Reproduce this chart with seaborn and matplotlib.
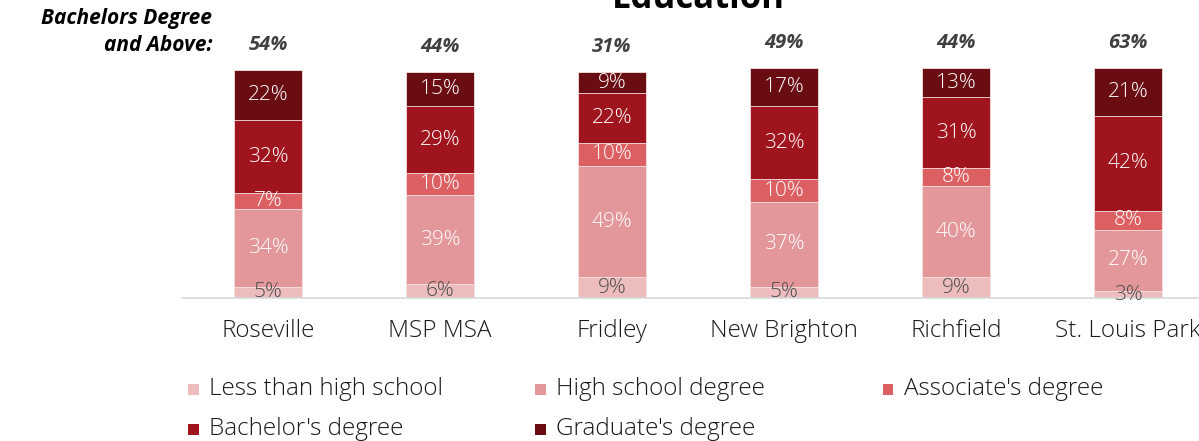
import matplotlib
matplotlib.use("Agg")
import matplotlib.pyplot as plt
from matplotlib.patches import Rectangle
import numpy as np
import seaborn as sns

# Educational attainment by city (share of adults, %)
cities = ["Roseville", "MSP MSA", "Fridley", "New Brighton", "Richfield", "St. Louis Park"]
less_than_hs = [5, 6, 9, 5, 9, 3]
high_school = [34, 39, 49, 37, 40, 27]
associates = [7, 10, 10, 10, 8, 8]
bachelors = [32, 29, 22, 32, 31, 42]
graduate = [22, 15, 9, 17, 13, 21]

levels = ["Less than high school", "High school degree", "Associate's degree",
          "Bachelor's degree", "Graduate's degree"]
colors = ["#EDBDBE", "#E4979A", "#DC5F62", "#9F141D", "#6A0D13"]

sns.set_theme(style="white")
plt.rcParams["font.family"] = ["Open Sans", "DejaVu Sans"]
LIGHT = "light"

W, H = 1199, 441
fig = plt.figure(figsize=(W / 100, H / 100), dpi=100)
fig.patch.set_facecolor("white")

# axes spans one category slot either side of the bars; right edge runs past the canvas
ax = fig.add_axes([182 / W, 1 - 298 / H, 1032 / W, 228 * 1.1 / H])

series = np.array([less_than_hs, high_school, associates, bachelors, graduate], dtype=float)
cum = np.cumsum(series, axis=0)

# stacked bars: draw the tallest cumulative layer first, then overlay the lower ones
for i in range(len(levels) - 1, -1, -1):
    sns.barplot(x=cities, y=cum[i], color=colors[i], saturation=1, width=0.395,
                edgecolor="#F4E4E4", linewidth=0.6, ax=ax, zorder=2)

# segment value labels
for i, vals in enumerate(series):
    base = cum[i] - vals
    for j, v in enumerate(vals):
        ax.text(j, base[j] + v / 2, f"{int(v)}%", ha="center", va="center",
                fontsize=15, fontweight=LIGHT,
                color="#4d4d4d" if i == 0 else "white", zorder=3)

# bachelor's degree and above, printed above each bar
above = series[3] + series[4]
for j, v in enumerate(above):
    ax.annotate(f"{int(v)}%", (j, cum[-1][j]), xytext=(0, 18), textcoords="offset points",
                ha="center", va="center", fontsize=14.5, fontweight="bold", style="italic",
                color="#404040")

ax.set_xlim(-0.5, len(cities) - 0.5)
ax.set_ylim(0, 110)
ax.set_yticks([])
ax.set_xlabel("")
ax.set_ylabel("")
for side in ["left", "right", "top"]:
    ax.spines[side].set_visible(False)
ax.spines["bottom"].set_color("#D9D9D9")
ax.spines["bottom"].set_linewidth(1.2)
ax.tick_params(axis="x", length=0, pad=15, labelsize=17.5, labelcolor="#1a1a1a")
for lbl in ax.get_xticklabels():
    lbl.set_fontweight(LIGHT)

fig.text(698 / W, 1 - 8 / H, "Education", ha="center", va="baseline",
         fontsize=25, fontweight="bold", color="black")
fig.text(212 / W, 1 - 32 / H, "Bachelors Degree\nand Above:", ha="right", va="center",
         multialignment="right", fontsize=15, fontweight="bold", style="italic",
         linespacing=1.38, color="black")

# legend, three entries per row
legend_pos = [(193, 389), (540, 389), (888, 389), (193, 429), (540, 429)]
sq = 11
for (lx, ly), lab, c in zip(legend_pos, levels, colors):
    fig.patches.append(Rectangle(((lx - sq / 2) / W, 1 - (ly + sq / 2) / H), sq / W, sq / H,
                                 transform=fig.transFigure, facecolor=c, edgecolor="none"))
    fig.text((lx + 16) / W, 1 - ly / H, lab, ha="left", va="center", fontsize=17.5,
             fontweight=LIGHT, color="#1a1a1a")

fig.savefig("out.png", dpi=100, facecolor="white")
